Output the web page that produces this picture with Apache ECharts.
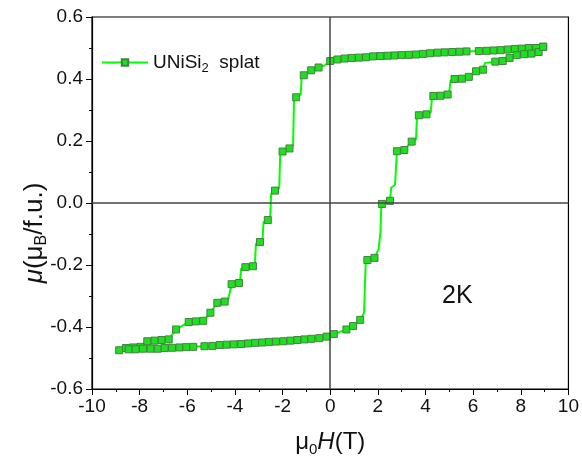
<!DOCTYPE html>
<html>
<head>
<meta charset="utf-8">
<script src="https://cdn.jsdelivr.net/npm/echarts@6/dist/echarts.min.js"></script>
<style>
  html, body { margin: 0; padding: 0; background: #fff; }
  #chart { width: 582px; height: 462px; }
</style>
</head>
<body>
<div id="chart"></div>
<script>
// 磁滞回线 UNiSi2 splat, 2K
// [H, M] 点; 第三个值为 0 表示只连线、不画方块
const branchDown = [
  [8.94, 0.504], [8.64, 0.500], [8.33, 0.500], [8.04, 0.498], [7.74, 0.497], [7.45, 0.495],
  [7.15, 0.493], [6.85, 0.492], [6.56, 0.491], [6.24, 0.490], [5.72, 0.489], [5.42, 0.488],
  [5.12, 0.487], [4.80, 0.486], [4.50, 0.485], [4.19, 0.483], [3.89, 0.481], [3.60, 0.479],
  [3.30, 0.478], [3.00, 0.477], [2.70, 0.476], [2.40, 0.475], [2.10, 0.474], [1.80, 0.473],
  [1.50, 0.470], [1.20, 0.469], [0.90, 0.468], [0.60, 0.466], [0.30, 0.463], [0.00, 0.458],
  [-0.25, 0.443, 0],
  [-0.49, 0.437], [-0.80, 0.428], [-1.11, 0.412],
  [-1.20, 0.405, 0], [-1.24, 0.350, 0],
  [-1.43, 0.341],
  [-1.52, 0.335, 0], [-1.56, 0.185, 0],
  [-1.71, 0.176], [-2.00, 0.166],
  [-2.10, 0.160, 0], [-2.14, 0.048, 0],
  [-2.32, 0.040],
  [-2.48, 0.030, 0], [-2.52, -0.045, 0],
  [-2.62, -0.055],
  [-2.80, -0.062, 0], [-2.84, -0.118, 0],
  [-2.95, -0.126],
  [-3.12, -0.132, 0], [-3.16, -0.196, 0],
  [-3.24, -0.204], [-3.56, -0.207],
  [-3.74, -0.212, 0], [-3.78, -0.250, 0],
  [-3.83, -0.258], [-4.14, -0.262],
  [-4.22, -0.268, 0], [-4.28, -0.310, 0],
  [-4.43, -0.318], [-4.74, -0.322], [-5.03, -0.354], [-5.33, -0.380], [-5.64, -0.382],
  [-5.94, -0.384], [-6.47, -0.408], [-6.78, -0.440], [-7.08, -0.442], [-7.38, -0.444],
  [-7.68, -0.446], [-7.97, -0.464], [-8.28, -0.466], [-8.58, -0.468], [-8.86, -0.475]
]
const branchUp = [
  [-8.46, -0.472], [-8.17, -0.472], [-7.86, -0.470], [-7.54, -0.470], [-7.24, -0.470],
  [-6.95, -0.468], [-6.64, -0.467], [-6.33, -0.466], [-6.04, -0.465], [-5.75, -0.464],
  [-5.28, -0.462], [-4.95, -0.461], [-4.64, -0.458], [-4.35, -0.457], [-4.05, -0.456],
  [-3.74, -0.455], [-3.45, -0.453], [-3.15, -0.451], [-2.86, -0.450], [-2.57, -0.448],
  [-2.28, -0.447], [-1.97, -0.446], [-1.67, -0.444], [-1.38, -0.442], [-1.08, -0.440],
  [-0.79, -0.438], [-0.46, -0.436], [-0.15, -0.431], [0.15, -0.423],
  [0.68, -0.408], [0.96, -0.397], [1.26, -0.377],
  [1.42, -0.354, 0], [1.49, -0.192, 0],
  [1.56, -0.184], [1.86, -0.177],
  [2.03, -0.149, 0], [2.11, -0.094, 0], [2.14, -0.019, 0],
  [2.17, -0.003], [2.51, 0.007],
  [2.56, 0.050, 0], [2.72, 0.058, 0],
  [2.80, 0.167], [3.11, 0.171], [3.42, 0.198],
  [3.60, 0.205, 0], [3.64, 0.275, 0],
  [3.72, 0.283], [4.04, 0.286],
  [4.22, 0.292, 0], [4.27, 0.338, 0],
  [4.33, 0.345], [4.63, 0.346], [4.93, 0.350],
  [5.00, 0.360, 0], [5.05, 0.395, 0],
  [5.22, 0.400], [5.53, 0.401], [5.82, 0.407], [6.12, 0.425], [6.42, 0.430],
  [6.50, 0.452, 0],
  [6.93, 0.456], [7.24, 0.458], [7.53, 0.468], [7.83, 0.477], [8.14, 0.480], [8.45, 0.482],
  [8.75, 0.487], [8.94, 0.504]
]
const xTicks = [-10, -8, -6, -4, -2, 0, 2, 4, 6, 8, 10]
const yTicks = [-0.6, -0.4, -0.2, 0.0, 0.2, 0.4, 0.6]

const font = 'Liberation Sans, Arial, sans-serif'

const loop = branchDown.concat(branchUp).map(p => {
  if (p[2] === 0) return { value: [p[0], p[1]], symbol: 'none' }
  return { value: [p[0], p[1]] }
})

const chart = echarts.init(document.getElementById('chart'))
chart.setOption({
  animation: false,
  grid: {
    left: 92,
    right: 10,
    top: 17,
    bottom: 73,
    show: true,
    borderColor: '#000',
    borderWidth: 1.2
  },
  legend: {
    left: 96,
    top: 48,
    itemWidth: 46,
    itemHeight: 8,
    itemGap: 5,
    formatter: () => '{a|UNiSi}{s|2}{a|  splat}',
    textStyle: {
      rich: {
        a: { fontFamily: font, fontSize: 19, color: '#111', lineHeight: 24 },
        s: { fontFamily: font, fontSize: 13, color: '#111', lineHeight: 12, verticalAlign: 'bottom' }
      }
    }
  },
  xAxis: {
    type: 'value',
    min: xTicks[0],
    max: xTicks[xTicks.length - 1],
    interval: 2,
    name: '{m|μ}{s|0}{h|H}{m|(T)}',
    nameLocation: 'middle',
    nameGap: 38,
    nameTextStyle: {
      rich: {
        m: { fontFamily: font, fontSize: 24, color: '#111', lineHeight: 30 },
        s: { fontFamily: font, fontSize: 15, color: '#111', lineHeight: 14, verticalAlign: 'bottom' },
        h: { fontFamily: font, fontSize: 24, color: '#111', lineHeight: 30, fontStyle: 'italic' }
      }
    },
    axisLine: { show: true, onZero: false, lineStyle: { color: '#000', width: 1.2 } },
    axisTick: { show: true, inside: false, length: 6, lineStyle: { color: '#000' } },
    minorTick: { show: true, splitNumber: 2, length: 3, lineStyle: { color: '#000' } },
    splitLine: { show: false },
    axisLabel: { fontFamily: font, fontSize: 19, color: '#111', margin: 8 }
  },
  yAxis: {
    type: 'value',
    min: yTicks[0],
    max: yTicks[yTicks.length - 1],
    interval: 0.2,
    axisLine: { show: true, onZero: false, lineStyle: { color: '#000', width: 1.2 } },
    axisTick: { show: true, inside: false, length: 6, lineStyle: { color: '#000' } },
    minorTick: { show: true, splitNumber: 2, length: 3, lineStyle: { color: '#000' } },
    splitLine: { show: false },
    axisLabel: {
      fontFamily: font,
      fontSize: 19,
      color: '#111',
      margin: 9,
      formatter: v => v.toFixed(1)
    }
  },
  graphic: [
    {
      type: 'text',
      x: 35,
      y: 233,
      rotation: Math.PI / 2,
      style: {
        text: '{i|μ}{m|(μ}{s|B}{m|/f.u.)}',
        align: 'center',
        verticalAlign: 'middle',
        rich: {
          i: { fontFamily: font, fontSize: 26, fill: '#111', lineHeight: 30, fontStyle: 'italic' },
          m: { fontFamily: font, fontSize: 26, fill: '#111', lineHeight: 30 },
          s: { fontFamily: font, fontSize: 16, fill: '#111', lineHeight: 14, verticalAlign: 'bottom' }
        }
      }
    },
    {
      type: 'text',
      left: 442,
      top: 284,
      style: { text: '2K', fontFamily: font, fontSize: 25, fill: '#111' }
    }
  ],
  series: [
    {
      name: 'UNiSi2 splat',
      type: 'line',
      data: loop,
      symbol: 'rect',
      symbolSize: 7,
      showAllSymbol: true,
      lineStyle: { color: '#00ff00', width: 2 },
      itemStyle: { color: '#1fe01f', borderColor: '#467f46', borderWidth: 1 },
      markLine: {
        silent: true,
        symbol: ['none', 'none'],
        label: { show: false },
        lineStyle: { color: '#444', width: 1.5, type: 'solid' },
        data: [{ xAxis: 0 }, { yAxis: 0 }]
      },
      z: 3
    }
  ]
})
</script>
</body>
</html>
